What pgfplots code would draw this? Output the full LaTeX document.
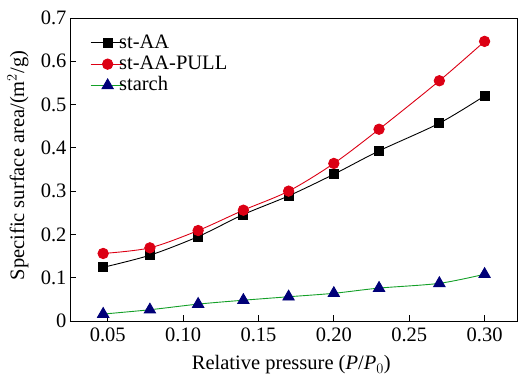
\documentclass[border=0pt]{standalone}
\usepackage{fontspec}
\setmainfont{Liberation Serif}
\usepackage{pgfplots}
\pgfplotsset{compat=1.18}
\definecolor{pred}{RGB}{220,0,20}
\definecolor{pgreen}{RGB}{20,160,40}
\definecolor{pnavy}{RGB}{0,0,120}
\newcommand{\ff}{\fontsize{20.5}{23}\selectfont}
\begin{document}
\begin{tikzpicture}[font=\ff]
\begin{axis}[
  scale only axis,
  width=447pt, height=303pt,
  xmin=0.025, xmax=0.3215,
  ymin=0, ymax=0.7,
  xtick={0.05,0.10,0.15,0.20,0.25,0.30},
  ytick={0,0.1,0.2,0.3,0.4,0.5,0.6,0.7},
  yticklabels={0,0.1,0.2,0.3,0.4,0.5,0.6,0.7},
  xticklabel style={yshift=-3pt,/pgf/number format/.cd,fixed,fixed zerofill,precision=2},
  /pgf/number format/assume math mode=true,
  every tick label/.append style={font=\ff},
  label style={font=\ff},
  tick align=inside,
  tick pos=left,
  major tick length=6pt,
  axis line style={line width=0.9pt},
  tick style={line width=0.9pt,black},
  xlabel={Relative pressure (\textit{P}/\textit{P}$_0$)},
  ylabel={Specific surface area/(m$^2$/g)},
  xlabel style={at={(axis description cs:0.495,0)}, anchor=base, yshift=-49pt},
  ylabel style={at={(axis description cs:-0.1163,0.513)}, anchor=center},
  legend style={draw=none, fill=none, inner sep=0pt, font=\ff, at={(axis description cs:0,1)}, anchor=north west, xshift=20pt, yshift=-14pt, row sep=0pt, column sep=0pt,
    nodes={inner sep=1pt, text height=15pt, text depth=4.3pt}},
  legend cell align=left,
  legend image code/.code={\draw[mark repeat=2,mark phase=2] plot coordinates {(0pt,0pt) (17pt,0pt) (34pt,0pt)};},
  every axis plot/.append style={line width=0.9pt},
]
\addplot[black, smooth, mark=square*, mark size=4.5pt, mark options={solid,fill=black}] coordinates {
(0.047,0.124)(0.078,0.152)(0.110,0.195)(0.140,0.246)(0.170,0.289)(0.200,0.339)(0.230,0.393)(0.270,0.457)(0.300,0.520)};
\addlegendentry{\hspace{-7pt}st-AA}
\addplot[pred, smooth, mark=*, mark size=5.2pt, mark options={solid,fill=pred,draw=pred}] coordinates {
(0.047,0.156)(0.078,0.169)(0.110,0.209)(0.140,0.256)(0.170,0.300)(0.200,0.364)(0.230,0.443)(0.270,0.555)(0.300,0.646)};
\addlegendentry{\hspace{-7pt}st-AA-PULL}
\addplot[pgreen, smooth, mark=triangle*, mark size=6.5pt, mark options={solid,fill=pnavy,draw=pnavy}] coordinates {
(0.047,0.016)(0.078,0.026)(0.110,0.039)(0.140,0.048)(0.170,0.056)(0.200,0.064)(0.230,0.076)(0.270,0.087)(0.300,0.108)};
\addlegendentry{\hspace{-7pt}starch}
\end{axis}
\pgfresetboundingbox
\path (current axis.south west) +(-70pt,-55pt) (current axis.north east) +(1pt,18pt);
\end{tikzpicture}
\end{document}
